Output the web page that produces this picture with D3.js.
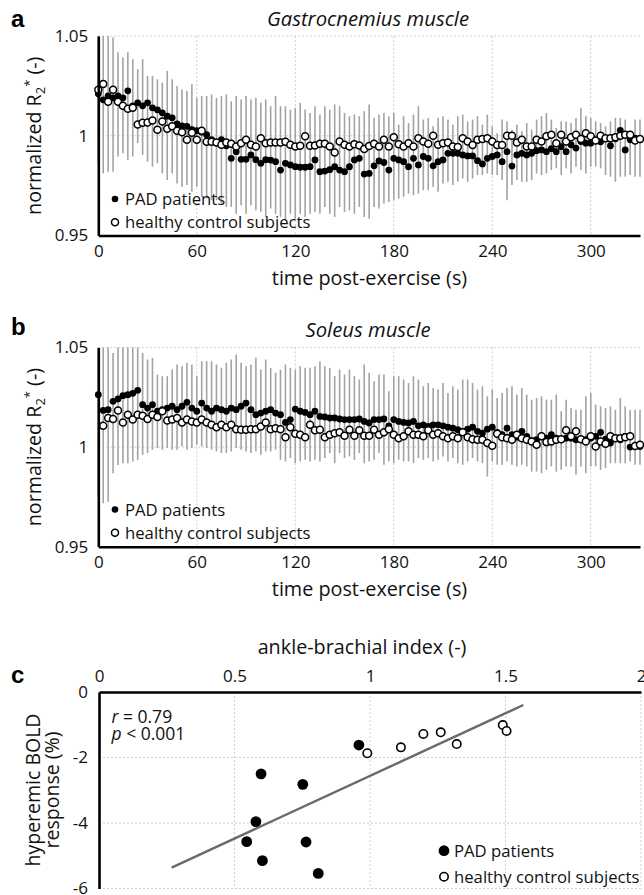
<!DOCTYPE html>
<html><head><meta charset="utf-8">
<script src="https://cdn.jsdelivr.net/npm/d3@7"></script>
<style>body{margin:0;background:#fff;} svg{display:block;font-family:"Open Sans",sans-serif;}</style>
</head><body><script>
// ---------------- DATA ----------------
const sampleInterval = 3; // s between samples (x categories: 0,3,...,330)
const timeTicks = [0, 60, 120, 180, 240, 300];
const r2Ticks = [0.95, 1, 1.05];

const gastroPAD = [1.021,1.018,1.020,1.019,1.020,1.019,1.0225,1.015,1.0165,1.015,
 1.0165,1.014,1.013,1.0115,1.0098,1.009,1.006,1.005,1.0047,1.003,
 1.0025,1.0018,1.0005,0.998,0.9966,0.998,0.995,0.9887,0.992,0.9882,
 0.9882,0.9904,0.988,0.9862,0.988,0.9878,0.9870,0.9828,0.9862,0.9854,
 0.9845,0.9842,0.9842,0.9845,0.9879,0.982,0.9823,0.983,0.9845,0.9828,
 0.982,0.9845,0.9879,0.9887,0.9808,0.9811,0.9849,0.9874,0.9866,0.9828,
 0.9887,0.9879,0.987,0.9845,0.9887,0.9854,0.9896,0.9887,0.9849,0.987,
 0.9879,0.9912,0.9912,0.9912,0.9904,0.9899,0.9899,0.9875,0.9859,0.9887,
 0.9896,0.9904,0.987,0.992,0.9848,0.9904,0.9912,0.9904,0.9912,0.9925,
 0.9929,0.992,0.9935,0.992,0.9945,0.992,0.9955,0.9938,0.9971,0.9963,
 0.9963,0.9975,0.997,0.9985,0.995,0.9985,1.0027,0.9929,0.998,0.9988,
 0.998];
const gastroCtrl = [1.023,1.026,1.017,1.023,1.017,1.015,1.0135,1.014,1.0056,1.0065,
 1.0067,1.0077,1.003,1.0072,1.0035,1.0047,1.0025,1.0017,0.998,1.0015,
 0.998,1.0025,0.997,0.997,0.9966,0.9955,0.9966,0.996,0.9946,0.9963,
 0.998,0.9955,0.9946,0.9988,0.9963,0.9966,0.9966,0.9966,0.997,0.9955,
 0.9946,0.995,0.9997,0.995,0.9951,0.996,0.996,0.9946,0.9916,0.9971,
 0.9955,0.9946,0.9958,0.9951,0.9933,0.9949,0.996,0.9946,0.998,0.9946,
 0.9993,0.9958,0.9946,0.9963,0.9946,0.9988,0.9971,0.996,1.0,0.9955,
 0.9963,0.9966,0.9946,0.9943,0.9988,0.9971,0.9954,0.998,0.9984,0.9988,
 0.9971,0.9954,0.9954,1.0,1.0,0.9966,0.998,0.9946,0.9946,0.998,
 0.9971,0.9997,1.0005,0.9963,1.0005,0.9971,0.9993,1.0005,0.9984,1.0013,
 0.9997,0.9976,1.0,0.9988,0.9988,0.9993,1.0,1.0005,1.0005,0.9976,
 0.9984];
const gastroBarHi = [1.055,1.055,1.055,1.0493,1.0418,1.0392,1.0418,1.0384,1.0333,1.0384,
 1.03,1.03,1.0283,1.0266,1.0325,1.0283,1.0249,1.0232,1.0224,1.0258,
 1.019,1.0199,1.0199,1.0207,1.019,1.0199,1.0207,1.0173,1.0199,1.0182,
 1.0199,1.0182,1.019,1.0165,1.0182,1.0148,1.0199,1.0148,1.0148,1.0131,
 1.014,1.0165,1.0131,1.0114,1.0148,1.0106,1.0148,1.0131,1.0157,1.0148,
 1.0114,1.0098,1.0106,1.0098,1.0123,1.0157,1.0089,1.0106,1.0114,1.0098,
 1.0114,1.0056,1.0098,1.0064,1.0106,1.0148,1.0081,1.0089,1.0047,1.0089,
 1.0098,1.0081,1.0056,1.0098,1.0106,1.0072,1.0081,1.0098,1.0056,1.0106,
 1.0047,1.0013,1.0081,1.0072,1.003,1.0056,1.0022,1.0064,1.003,1.0081,
 1.0098,1.0114,1.0081,1.0039,1.0072,1.0072,1.0064,1.0089,1.014,1.0098,
 1.0089,1.0072,1.0064,1.0047,1.0072,1.0089,1.0089,1.0081,1.0022,1.0081,
 1.0081];
const gastroBarLo = [0.985,0.9811,0.982,0.982,0.9896,0.9912,0.9879,0.9896,0.9963,0.9904,
 0.987,0.9845,0.9862,0.9811,0.9778,0.9811,0.9761,0.9744,0.9753,0.9719,
 0.9744,0.9694,0.9685,0.9677,0.9677,0.966,0.9643,0.9643,0.9609,0.9652,
 0.9609,0.9652,0.9626,0.9618,0.9593,0.9635,0.9609,0.9593,0.9576,0.9609,
 0.9584,0.9609,0.9593,0.9609,0.9618,0.9609,0.9643,0.9609,0.9593,0.9643,
 0.9618,0.9626,0.9609,0.9643,0.9593,0.9584,0.9643,0.9635,0.966,0.9668,
 0.9677,0.9685,0.9694,0.971,0.9702,0.971,0.9727,0.9727,0.9744,0.9719,
 0.9761,0.9769,0.9753,0.9769,0.9786,0.9769,0.9786,0.9803,0.9803,0.9811,
 0.9803,0.9803,0.9778,0.9677,0.9753,0.9778,0.9769,0.9769,0.9778,0.9811,
 0.9803,0.9811,0.9828,0.9837,0.9803,0.9837,0.9811,0.9845,0.9828,0.9811,
 0.9845,0.9845,0.9837,0.9803,0.9795,0.9769,0.9795,0.9795,0.9803,0.9795,
 0.9795];

const soleusPAD = [1.0263,1.0184,1.0188,1.023,1.0242,1.0258,1.0263,1.027,1.0285,1.0213,
 1.0196,1.0213,1.018,1.0188,1.0196,1.0205,1.0188,1.0205,1.0225,1.0196,
 1.018,1.0221,1.0196,1.018,1.0196,1.0188,1.018,1.0196,1.0188,1.0205,
 1.0221,1.0188,1.0163,1.0171,1.018,1.0188,1.0171,1.0163,1.0124,1.0138,
 1.0191,1.018,1.0174,1.0163,1.018,1.0154,1.0151,1.0146,1.0146,1.0141,
 1.0138,1.0138,1.0138,1.0141,1.0129,1.0121,1.0138,1.0138,1.0141,1.0107,
 1.0138,1.0129,1.0124,1.0121,1.0129,1.0107,1.0112,1.0104,1.0112,1.0112,
 1.0107,1.01,1.0095,1.0087,1.0079,1.009,1.01,1.0079,1.007,1.009,
 1.01,1.0074,1.0062,1.0095,1.0062,1.005,1.0079,1.0054,1.0033,1.0037,
 1.0054,1.0045,1.0062,1.0045,1.0037,1.0045,1.0045,1.0037,1.004,1.0037,
 1.0045,1.0054,1.0074,1.004,1.002,1.0045,1.0037,1.0054,1.0,1.0006,
 1.0003];
const soleusCtrl = [null,1.0107,1.0146,1.0141,1.0184,1.0124,1.0163,1.0138,1.0163,1.0158,
 1.0141,1.0163,1.0151,1.018,1.0134,1.0138,1.0146,1.0124,1.0138,1.0129,
 1.0124,1.0138,1.0124,1.0112,1.01,1.0112,1.01,1.0112,1.009,1.0087,
 1.0087,1.009,1.009,1.0104,1.0124,1.009,1.0095,1.009,1.005,1.01,
 1.0067,1.0062,1.005,1.0112,1.0084,1.0087,1.005,1.0062,1.007,1.0074,
 1.0057,1.0087,1.0057,1.0084,1.0057,1.0057,1.0087,1.0062,1.0074,1.009,
 1.0062,1.0045,1.0054,1.0079,1.0062,1.0062,1.0054,1.0084,1.0062,1.007,
 1.0054,1.0045,1.0054,1.0045,1.0074,1.005,1.004,1.0037,1.0037,1.002,
 1.0007,1.0067,1.005,1.0045,1.0037,1.0062,1.0045,1.0037,1.0028,1.0012,
 1.0054,1.0025,1.0028,1.0037,1.004,1.0084,1.0054,1.0079,1.004,1.0028,
 1.0054,1.0003,1.0028,1.0017,1.0054,1.0045,1.0045,1.005,1.0054,1.0006,
 1.0012];
const soleusBarHi = [1.055,1.055,1.055,1.0473,1.055,1.055,1.055,1.055,1.055,1.0473,
 1.044,1.0448,1.0364,1.0356,1.0356,1.0389,1.0415,1.0406,1.0423,1.0415,
 1.0356,1.0431,1.0431,1.0431,1.0415,1.0398,1.0423,1.044,1.0465,1.0423,
 1.0406,1.0415,1.0448,1.0389,1.044,1.0398,1.0373,1.0389,1.0415,1.0398,
 1.0389,1.0406,1.0398,1.0398,1.0406,1.0431,1.0406,1.0398,1.0356,1.0389,
 1.0364,1.0389,1.0356,1.0339,1.0415,1.0373,1.0331,1.0364,1.0364,1.028,
 1.0356,1.0356,1.0339,1.0322,1.0356,1.0339,1.0305,1.0322,1.0297,1.0289,
 1.0322,1.0272,1.0305,1.0289,1.0339,1.0339,1.0322,1.0289,1.0305,1.0255,
 1.0289,1.0247,1.0272,1.0297,1.0305,1.0264,1.0297,1.0264,1.0238,1.0247,
 1.0255,1.0238,1.0238,1.0264,1.018,1.0238,1.0196,1.0188,1.0188,1.0255,
 1.0272,1.0213,1.0205,1.0196,1.0205,1.0188,1.0247,1.0205,1.0188,1.0188,
 1.0188];
const soleusBarLo = [0.975,0.9718,0.9726,0.9869,0.991,0.9919,0.9919,0.9928,0.9936,0.9961,
 0.997,0.9987,0.9995,0.9987,0.9995,0.9987,0.9987,1.0003,0.9987,0.9995,
 1.0012,1.0003,0.9995,0.9987,0.9978,0.997,0.997,0.9978,0.9995,0.9987,
 0.9978,0.997,0.9978,0.9961,0.9978,0.9978,0.9987,0.9936,0.9928,0.9945,
 0.9919,0.9928,0.9936,0.9928,0.9936,0.9928,0.9945,0.997,0.9919,0.997,
 0.9945,0.9953,0.9936,0.997,0.9919,0.9928,0.9936,0.997,0.9911,0.9928,
 0.9919,0.9936,0.9928,0.9928,0.9919,0.9945,0.9936,0.9945,0.9928,0.9936,
 0.9953,0.9928,0.9945,0.9919,0.9911,0.9928,0.9945,0.9928,0.9919,0.9852,
 0.9928,0.9911,0.9911,0.9928,0.9911,0.9903,0.9911,0.9903,0.9877,0.9877,
 0.9869,0.9886,0.9903,0.9877,0.9886,0.9903,0.9903,0.9861,0.9903,0.9869,
 0.9903,0.9903,0.9886,0.9894,0.9919,0.9919,0.9919,0.9919,0.9928,0.9911,
 0.9911];

// panel c
const abiTicks = [0, 0.5, 1, 1.5, 2];
const boldTicks = [0, -2, -4, -6];
const abiPAD  = [0.598, 0.752, 0.579, 0.545, 0.603, 0.764, 0.809, 0.959];
const boldPAD = [-2.50, -2.82, -3.96, -4.57, -5.15, -4.58, -5.54, -1.62];
const abiCtrl  = [0.990, 1.114, 1.197, 1.261, 1.320, 1.490, 1.504];
const boldCtrl = [-1.87, -1.69, -1.28, -1.23, -1.59, -1.01, -1.19];
const fitABI  = [0.268, 1.566];
const fitBOLD = [-5.36, -0.397];

// ---------------- DRAW ----------------
const W = 644, H = 895;
const svg = d3.select("body").append("svg").attr("width", W).attr("height", H);
svg.append("rect").attr("width", W).attr("height", H).attr("fill", "#fff");

const FONT = "'Open Sans', sans-serif";
const GRID = "#cfcfcf";
const TXT = "#111";

function styleAxis(g, size) {
  g.attr("font-family", FONT).attr("font-size", size);
  g.select(".domain").attr("stroke", "#000").attr("stroke-width", 2.6);
  g.selectAll("text").attr("fill", TXT);
}

function timePanel(o) {
  const x = d3.scaleLinear().domain([0, 330]).range([98.3, 640]);
  const y = d3.scaleLinear().domain([0.95, 1.05]).range([o.yBottom, o.yTop]).clamp(true);
  const g = svg.append("g");
  // grid
  g.selectAll(".vg").data(timeTicks.slice(1)).join("line")
    .attr("x1", d => x(d)).attr("x2", d => x(d)).attr("y1", y(1.05)).attr("y2", y(0.95))
    .attr("stroke", GRID).attr("stroke-width", 1).attr("stroke-dasharray", "2,2");
  g.selectAll(".hg").data(r2Ticks.slice(1)).join("line")
    .attr("x1", x(0)).attr("x2", x(330)).attr("y1", d => y(d)).attr("y2", d => y(d))
    .attr("stroke", GRID).attr("stroke-width", 1).attr("stroke-dasharray", "2,2");
  // error bars
  g.selectAll(".eb").data(o.hi).join("line")
    .attr("x1", (d, i) => x(i * sampleInterval)).attr("x2", (d, i) => x(i * sampleInterval))
    .attr("y1", d => y(d)).attr("y2", (d, i) => y(o.lo[i]))
    .attr("stroke", "#a3a3a3").attr("stroke-width", 1.6);
  // PAD
  g.selectAll(".pad").data(o.pad).join("circle")
    .attr("cx", (d, i) => x(i * sampleInterval)).attr("cy", d => y(d)).attr("r", 3.4)
    .attr("fill", "#000");
  // controls
  g.selectAll(".ctl").data(o.ctrl.map((v, i) => [i, v]).filter(d => d[1] != null)).join("circle")
    .attr("cx", d => x(d[0] * sampleInterval)).attr("cy", d => y(d[1])).attr("r", 3.5)
    .attr("fill", "#fff").attr("stroke", "#000").attr("stroke-width", 1.5);
  // axes
  const ax = g.append("g").attr("transform", `translate(${x(0)},0)`)
    .call(d3.axisLeft(y).tickValues(r2Ticks).tickSize(0).tickPadding(10)
      .tickFormat(d => d === 1 ? "1" : d3.format(".2f")(d)));
  styleAxis(ax, 17);
  const bx = g.append("g").attr("transform", `translate(0,${o.yBottom})`)
    .call(d3.axisBottom(x).tickValues(timeTicks).tickSize(0).tickPadding(9).tickFormat(d3.format("d")));
  styleAxis(bx, 17);
  // legend
  g.append("circle").attr("cx", 115).attr("cy", o.legY).attr("r", 3.3).attr("fill", "#000");
  g.append("text").attr("x", 125).attr("y", o.legY + 6).attr("font-size", 16.7).attr("fill", TXT).text("PAD patients");
  g.append("circle").attr("cx", 115).attr("cy", o.legY + 23.3).attr("r", 3.5)
    .attr("fill", "#fff").attr("stroke", "#000").attr("stroke-width", 1.5);
  g.append("text").attr("x", 125).attr("y", o.legY + 29.3).attr("font-size", 16.7).attr("fill", TXT).text("healthy control subjects");
  // titles
  g.append("text").attr("x", 368).attr("y", o.titleY).attr("text-anchor", "middle")
    .attr("font-style", "italic").attr("font-size", 20.3).attr("fill", TXT).text(o.title);
  g.append("text").attr("x", 11).attr("y", o.letterY).attr("font-family", "'Liberation Sans', Arial, sans-serif")
    .attr("font-weight", "bold").attr("font-size", 24).attr("fill", "#000").text(o.letter);
  g.append("text").attr("x", 369.5).attr("y", o.yBottom + 49).attr("text-anchor", "middle")
    .attr("font-size", 19.8).attr("fill", TXT).text("time post-exercise (s)");
  const yl = g.append("text").attr("transform", `translate(41,${(o.yTop + o.yBottom) / 2}) rotate(-90)`)
    .attr("text-anchor", "middle").attr("font-size", 19.7).attr("fill", TXT);
  yl.append("tspan").text("normalized R");
  yl.append("tspan").attr("font-size", 13).attr("dy", 4).text("2");
  yl.append("tspan").attr("font-size", 13).attr("dy", -11).text("*");
  yl.append("tspan").attr("dy", 7).text(" (-)");
}

timePanel({ yTop: 36, yBottom: 235.5, pad: gastroPAD, ctrl: gastroCtrl, hi: gastroBarHi, lo: gastroBarLo,
  title: "Gastrocnemius muscle", titleY: 26, letter: "a", letterY: 27, legY: 199 });
timePanel({ yTop: 347.5, yBottom: 546.7, pad: soleusPAD, ctrl: soleusCtrl, hi: soleusBarHi, lo: soleusBarLo,
  title: "Soleus muscle", titleY: 337, letter: "b", letterY: 335, legY: 509.5 });

// ---- panel c ----
(function () {
  const x = d3.scaleLinear().domain([0, 2]).range([99, 641]);
  const y = d3.scaleLinear().domain([0, -6]).range([692, 888.5]);
  const g = svg.append("g");
  g.selectAll(".vg").data(abiTicks.slice(1)).join("line")
    .attr("x1", d => x(d)).attr("x2", d => x(d)).attr("y1", y(0)).attr("y2", y(-6))
    .attr("stroke", GRID).attr("stroke-dasharray", "2,2");
  g.selectAll(".hg").data(boldTicks.slice(1)).join("line")
    .attr("x1", x(0)).attr("x2", x(2)).attr("y1", d => y(d)).attr("y2", d => y(d))
    .attr("stroke", GRID).attr("stroke-dasharray", "2,2");
  // fit line
  g.append("line").attr("x1", x(fitABI[0])).attr("y1", y(fitBOLD[0]))
    .attr("x2", x(fitABI[1])).attr("y2", y(fitBOLD[1]))
    .attr("stroke", "#6a6a6a").attr("stroke-width", 2.4);
  g.selectAll(".pc").data(abiPAD).join("circle")
    .attr("cx", d => x(d)).attr("cy", (d, i) => y(boldPAD[i])).attr("r", 5.4).attr("fill", "#000");
  g.selectAll(".cc").data(abiCtrl).join("circle")
    .attr("cx", d => x(d)).attr("cy", (d, i) => y(boldCtrl[i])).attr("r", 4.2)
    .attr("fill", "#fff").attr("stroke", "#000").attr("stroke-width", 1.6);
  const ax = g.append("g").attr("transform", `translate(${x(0)},0)`)
    .call(d3.axisLeft(y).tickValues(boldTicks).tickSize(0).tickPadding(11).tickFormat(d => String(d)));
  styleAxis(ax, 17);
  const tx = g.append("g").attr("transform", `translate(0,${y(0)})`)
    .call(d3.axisTop(x).tickValues(abiTicks).tickSize(0).tickPadding(10).tickFormat(d => String(d)));
  styleAxis(tx, 17);
  // stats text
  const t1 = g.append("text").attr("x", 111.5).attr("y", 723).attr("font-size", 17.5).attr("fill", TXT);
  t1.append("tspan").attr("font-style", "italic").text("r");
  t1.append("tspan").text(" = 0.79");
  const t2 = g.append("text").attr("x", 111.5).attr("y", 740).attr("font-size", 17.5).attr("fill", TXT);
  t2.append("tspan").attr("font-style", "italic").text("p");
  t2.append("tspan").text(" < 0.001");
  // legend
  g.append("circle").attr("cx", 444).attr("cy", 850.7).attr("r", 5.4).attr("fill", "#000");
  g.append("text").attr("x", 454).attr("y", 857).attr("font-size", 16.7).attr("fill", TXT).text("PAD patients");
  g.append("circle").attr("cx", 444).attr("cy", 876.7).attr("r", 4.2)
    .attr("fill", "#fff").attr("stroke", "#000").attr("stroke-width", 1.6);
  g.append("text").attr("x", 454).attr("y", 883).attr("font-size", 16.7).attr("fill", TXT).text("healthy control subjects");
  // titles
  g.append("text").attr("x", 362).attr("y", 654).attr("text-anchor", "middle")
    .attr("font-size", 19.8).attr("fill", TXT).text("ankle-brachial index (-)");
  g.append("text").attr("x", 11).attr("y", 683).attr("font-family", "'Liberation Sans', Arial, sans-serif")
    .attr("font-weight", "bold").attr("font-size", 24).attr("fill", "#000").text("c");
  const yl = g.append("text").attr("transform", `translate(0,790) rotate(-90)`)
    .attr("text-anchor", "middle").attr("font-size", 19.5).attr("fill", TXT);
  yl.append("tspan").attr("x", 0).attr("y", 40).text("hyperemic BOLD");
  yl.append("tspan").attr("x", 0).attr("y", 59).text("response (%)");
})();
</script></body></html>
